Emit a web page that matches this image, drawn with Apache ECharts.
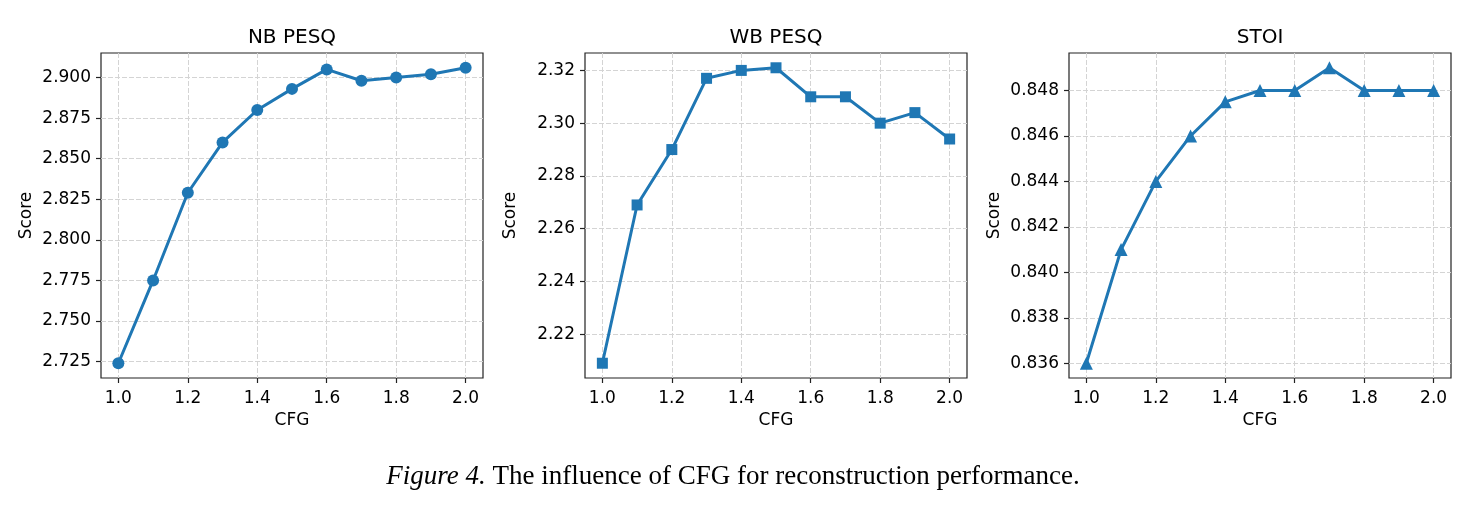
<!DOCTYPE html>
<html>
<head>
<meta charset="utf-8">
<script src="https://cdn.jsdelivr.net/npm/echarts@6/dist/echarts.min.js"></script>
<style>
html,body{margin:0;padding:0;background:#fff;}
#c{width:1472px;height:507px;}
</style>
</head>
<body>
<div id="c"></div>
<script>
const cfg = [1.0, 1.1, 1.2, 1.3, 1.4, 1.5, 1.6, 1.7, 1.8, 1.9, 2.0];
const nbPesq = [2.724, 2.775, 2.829, 2.860, 2.880, 2.893, 2.905, 2.898, 2.900, 2.902, 2.906];
const wbPesq = [2.209, 2.269, 2.290, 2.317, 2.320, 2.321, 2.310, 2.310, 2.300, 2.304, 2.294];
const stoi = [0.836, 0.841, 0.844, 0.846, 0.8475, 0.848, 0.848, 0.849, 0.848, 0.848, 0.848];
const xTicks = [1.0, 1.2, 1.4, 1.6, 1.8, 2.0];
const nbTicks = [2.725, 2.750, 2.775, 2.800, 2.825, 2.850, 2.875, 2.900];
const wbTicks = [2.22, 2.24, 2.26, 2.28, 2.30, 2.32];
const stoiTicks = [0.836, 0.838, 0.840, 0.842, 0.844, 0.846, 0.848];
const titles = ['NB PESQ', 'WB PESQ', 'STOI'];
const caption = 'The influence of CFG for reconstruction performance.';

const panels = [
  {data: nbPesq, ticks: nbTicks, dec: 3, symbol: 'circle', size: 12, left: 101},
  {data: wbPesq, ticks: wbTicks, dec: 2, symbol: 'rect', size: 11, left: 585},
  {data: stoi, ticks: stoiTicks, dec: 3, symbol: 'triangle', size: 13, left: 1069}
];
const W = 382, TOP = 53, H = 325;
const FONT = '"DejaVu Sans", sans-serif';
const COLOR = '#1f77b4';

const grid = [], xAxis = [], yAxis = [], series = [], title = [];
panels.forEach((p, i) => {
  grid.push({left: p.left, top: TOP, width: W, height: H, show: true,
    borderColor: '#222', borderWidth: 1.2, backgroundColor: 'transparent', outerBoundsMode: 'none', containLabel: false});
  xAxis.push({type: 'value', gridIndex: i, min: 0.95, max: 2.05,
    name: 'CFG', nameLocation: 'middle', nameGap: 34,
    nameTextStyle: {fontFamily: FONT, fontSize: 17, color: '#000'},
    axisLine: {show: false},
    axisTick: {show: true, customValues: xTicks, length: 5, lineStyle: {color: '#222', width: 1.2}},
    axisLabel: {customValues: xTicks, fontFamily: FONT, fontSize: 17, color: '#000', margin: 12,
      formatter: v => v.toFixed(1)},
    splitLine: {show: true, lineStyle: {color: '#d4d4d4', type: [5, 2], width: 1}}
  });
  yAxis.push({type: 'value', gridIndex: i,
    min: v => v.min - 0.05 * (v.max - v.min),
    max: v => v.max + 0.05 * (v.max - v.min),
    name: 'Score', nameLocation: 'middle', nameGap: 66,
    nameTextStyle: {fontFamily: FONT, fontSize: 17, color: '#000'},
    axisLine: {show: false},
    axisTick: {show: true, customValues: p.ticks, length: 5, lineStyle: {color: '#222', width: 1.2}},
    axisLabel: {customValues: p.ticks, fontFamily: FONT, fontSize: 17, color: '#000', margin: 10,
      formatter: v => v.toFixed(p.dec)},
    splitLine: {show: true, lineStyle: {color: '#d4d4d4', type: [5, 2], width: 1}}
  });
  series.push({type: 'line', xAxisIndex: i, yAxisIndex: i,
    data: cfg.map((c, k) => [c, p.data[k]]),
    symbol: p.symbol, symbolSize: p.size, showSymbol: true,
    lineStyle: {color: COLOR, width: 3}, itemStyle: {color: COLOR, borderWidth: 0},
    animation: false, z: 5
  });
  title.push({text: titles[i], left: p.left + W / 2, top: 28, textAlign: 'center', padding: 0,
    textStyle: {fontFamily: FONT, fontSize: 20, fontWeight: 'normal', color: '#000'}});
});
title.push({text: '{i|Figure 4.} ' + caption, left: 733, top: 463, textAlign: 'center', padding: 0,
  textStyle: {fontFamily: '"Liberation Serif", serif', fontSize: 27, fontWeight: 'normal', color: '#000',
    rich: {i: {fontFamily: '"Liberation Serif", serif', fontSize: 27, fontStyle: 'italic', color: '#000'}}}});

const chart = echarts.init(document.getElementById('c'), null, {renderer: 'canvas'});
chart.setOption({animation: false, backgroundColor: '#fff', title, grid, xAxis, yAxis, series});
</script>
</body>
</html>
